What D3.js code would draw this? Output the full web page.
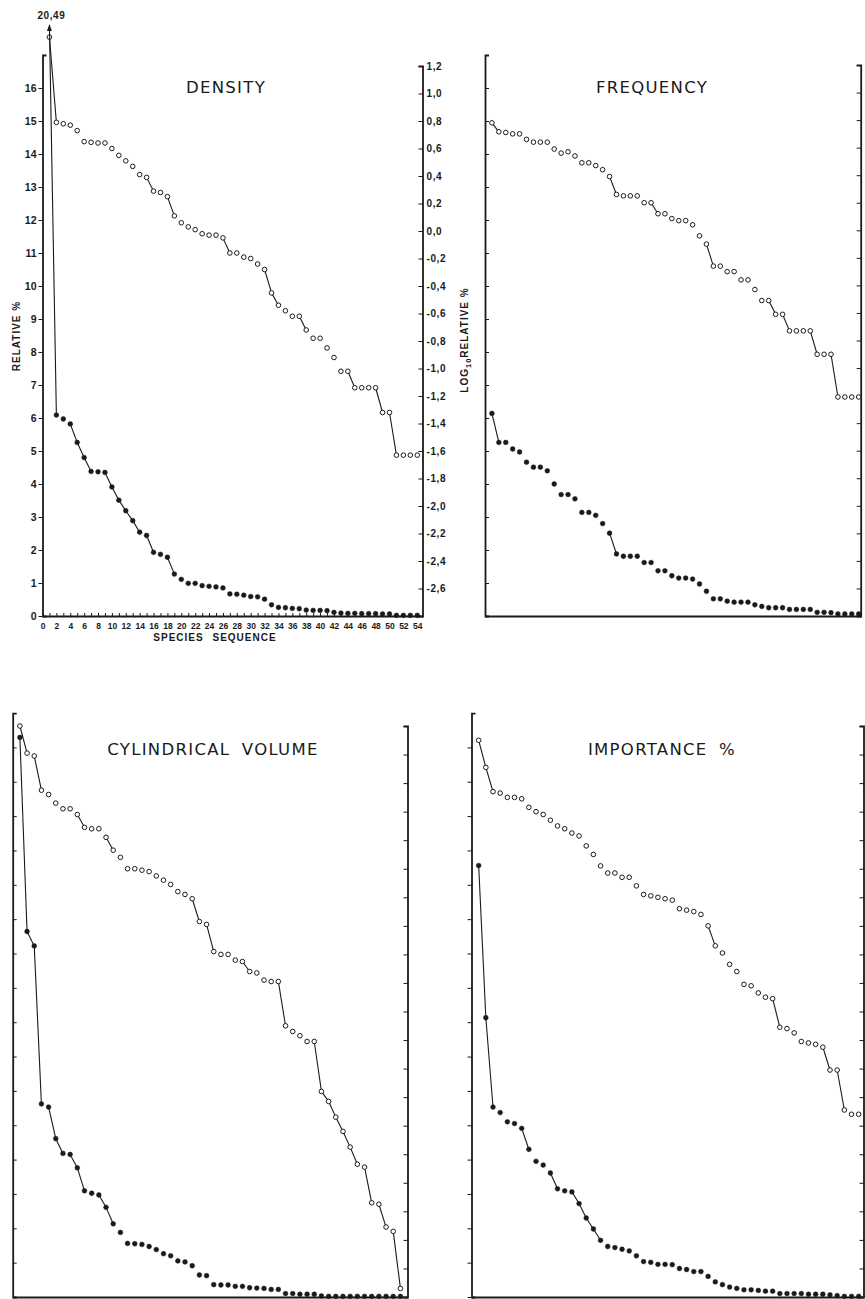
<!DOCTYPE html>
<html>
<head>
<meta charset="utf-8">
<script src="https://cdn.jsdelivr.net/npm/d3@7"></script>
<style>
  body { margin: 0; background: #fff; }
  text { fill: #1a1a1a; }
</style>
</head>
<body>
<svg id="chart" width="865" height="1299"></svg>
<script>
// species sequence 1..54, relative % (filled dots) and log10 relative % (open dots)
const species = d3.range(1, 55);
const relTicks = d3.range(0, 17);
const logTicks = d3.range(-14, 7).map(i => i / 5);   // -2.8 .. 1.2
const xLabels = d3.range(0, 55, 2);

const densityRel = [20.49, 6.09, 5.97, 5.82, 5.26, 4.80, 4.38, 4.37, 4.35, 3.91,
  3.51, 3.19, 2.89, 2.54, 2.44, 1.93, 1.87, 1.78, 1.27, 1.11,
  0.99, 0.99, 0.92, 0.90, 0.88, 0.85, 0.67, 0.66, 0.63, 0.59,
  0.58, 0.51, 0.34, 0.26, 0.25, 0.23, 0.22, 0.18, 0.17, 0.17,
  0.16, 0.11, 0.09, 0.08, 0.08, 0.07, 0.07, 0.07, 0.06, 0.06,
  0.02, 0.02, 0.02, 0.02];
const densityLog = [1.41, 0.79, 0.78, 0.77, 0.73, 0.65, 0.645, 0.64, 0.64, 0.60,
  0.55, 0.51, 0.47, 0.41, 0.39, 0.29, 0.28, 0.25, 0.11, 0.06,
  0.03, 0.01, -0.02, -0.03, -0.03, -0.05, -0.16, -0.16, -0.19, -0.20,
  -0.24, -0.28, -0.45, -0.54, -0.58, -0.62, -0.62, -0.72, -0.78, -0.78,
  -0.85, -0.92, -1.02, -1.02, -1.14, -1.14, -1.14, -1.14, -1.32, -1.32,
  -1.63, -1.63, -1.63, -1.63];

const freqRel = [6.14, 5.26, 5.26, 5.06, 4.97, 4.66, 4.51, 4.51, 4.40, 4.00,
  3.68, 3.68, 3.55, 3.14, 3.14, 3.05, 2.80, 2.51, 1.88, 1.81,
  1.81, 1.81, 1.62, 1.62, 1.37, 1.37, 1.22, 1.15, 1.15, 1.12,
  0.97, 0.75, 0.52, 0.52, 0.45, 0.42, 0.42, 0.42, 0.34, 0.29,
  0.25, 0.25, 0.25, 0.20, 0.20, 0.20, 0.20, 0.11, 0.11, 0.10,
  0.06, 0.06, 0.06, 0.06];
const freqLog = [0.78, 0.715, 0.71, 0.70, 0.70, 0.66, 0.64, 0.64, 0.64, 0.59,
  0.56, 0.57, 0.54, 0.49, 0.49, 0.47, 0.44, 0.39, 0.26, 0.25,
  0.25, 0.25, 0.20, 0.20, 0.12, 0.12, 0.085, 0.07, 0.07, 0.04,
  -0.04, -0.10, -0.26, -0.26, -0.30, -0.30, -0.36, -0.36, -0.43, -0.51,
  -0.51, -0.61, -0.61, -0.73, -0.73, -0.73, -0.73, -0.90, -0.90, -0.90,
  -1.21, -1.21, -1.21, -1.21];

const volumeRel = [16.29, 10.64, 10.22, 5.62, 5.53, 4.61, 4.18, 4.15, 3.76, 3.09,
  3.02, 2.97, 2.61, 2.13, 1.88, 1.56, 1.55, 1.53, 1.47, 1.38,
  1.26, 1.20, 1.05, 1.02, 0.91, 0.64, 0.62, 0.36, 0.35, 0.35,
  0.31, 0.31, 0.27, 0.26, 0.25, 0.22, 0.22, 0.10, 0.10, 0.08,
  0.08, 0.08, 0.03, 0.02, 0.02, 0.02, 0.02, 0.02, 0.02, 0.02,
  0.02, 0.02, 0.02, 0.02];
const volumeLog = [1.20, 1.01, 0.99, 0.75, 0.72, 0.66, 0.62, 0.62, 0.58, 0.49,
  0.48, 0.48, 0.42, 0.33, 0.28, 0.20, 0.20, 0.19, 0.18, 0.15,
  0.12, 0.09, 0.04, 0.02, -0.01, -0.17, -0.19, -0.38, -0.40, -0.40,
  -0.44, -0.45, -0.52, -0.53, -0.58, -0.59, -0.59, -0.90, -0.94, -0.97,
  -1.01, -1.01, -1.36, -1.43, -1.54, -1.64, -1.75, -1.87, -1.89, -2.14,
  -2.15, -2.31, -2.34, -2.74];

const importanceRel = [12.56, 8.13, 5.53, 5.37, 5.10, 5.05, 4.91, 4.30, 3.95, 3.84,
  3.61, 3.15, 3.09, 3.06, 2.72, 2.30, 1.98, 1.65, 1.47, 1.44,
  1.39, 1.34, 1.20, 1.03, 1.01, 0.95, 0.95, 0.94, 0.83, 0.80,
  0.74, 0.74, 0.60, 0.44, 0.36, 0.29, 0.25, 0.21, 0.21, 0.19,
  0.17, 0.17, 0.10, 0.10, 0.10, 0.10, 0.08, 0.08, 0.08, 0.06,
  0.04, 0.02, 0.02, 0.02];
const importanceLog = [1.10, 0.91, 0.74, 0.73, 0.70, 0.70, 0.69, 0.63, 0.60, 0.58,
  0.54, 0.50, 0.48, 0.45, 0.43, 0.36, 0.30, 0.22, 0.17, 0.17,
  0.14, 0.14, 0.08, 0.02, 0.01, 0.00, -0.01, -0.02, -0.08, -0.09,
  -0.10, -0.12, -0.20, -0.34, -0.39, -0.47, -0.52, -0.61, -0.62, -0.67,
  -0.70, -0.71, -0.91, -0.92, -0.95, -1.01, -1.02, -1.03, -1.05, -1.21,
  -1.21, -1.49, -1.52, -1.52];

// species n where the draughtsman joined n to n+1 with a line
const densityRelLinks = [1, 4, 5, 6, 9, 10, 11, 12, 13, 15, 18];
const densityLogLinks = [1, 15, 18, 26, 32, 33, 37, 44, 48, 50];
const freqRelLinks = [1, 18];
const freqLogLinks = [1, 18, 24, 32, 41, 43, 47, 50];
const volumeRelLinks = [1, 2, 3, 5, 6, 8, 9, 12, 13];
const volumeLogLinks = [1, 3, 9, 13, 25, 27, 32, 37, 42, 43, 44, 45, 46, 47, 49, 51, 53];
const importanceRelLinks = [1, 2, 7, 11, 14, 15, 16, 17];
const importanceLogLinks = [1, 2, 33, 42, 49, 51];

const panels = [
  { title: "DENSITY", rel: densityRel, log: densityLog, relLinks: densityRelLinks, logLinks: densityLogLinks,
    left: 42.5, right: 422.5, step: 6.94, bottom: 616, unit: 33, logTop: 66, leftTick: 4,
    tx: 226, ty: 93, labelled: true, cap: 17.85 },
  { title: "FREQUENCY", rel: freqRel, log: freqLog, relLinks: freqRelLinks, logLinks: freqLogLinks,
    left: 485, right: 860.7, step: 6.92, bottom: 616, unit: 33, logTop: 65, leftTick: -4,
    tx: 652, ty: 93 },
  { title: "CYLINDRICAL VOLUME", rel: volumeRel, log: volumeLog, relLinks: volumeRelLinks, logLinks: volumeLogLinks,
    left: 12.7, right: 407.5, step: 7.18, bottom: 1297, unit: 34.35, logTop: 726, leftTick: -4,
    tx: 213, ty: 755 },
  { title: "IMPORTANCE %", rel: importanceRel, log: importanceLog, relLinks: importanceRelLinks, logLinks: importanceLogLinks,
    left: 471.5, right: 863.5, step: 7.17, bottom: 1297, unit: 34.35, logTop: 726, leftTick: 4,
    tx: 662, ty: 755 }
];

const ink = "#1a1a1a";
const svg = d3.select("#chart");
const fmtComma = d3.formatLocale({decimal: ",", thousands: ".", grouping: [3], currency: ["", ""], minus: "-"});
const fmtLog = fmtComma.format(".1f");
const fmtPeak = fmtComma.format(".2f");

function styleAxis(ax, font) {
  ax.select(".domain").attr("stroke", ink).attr("stroke-width", 1.8);
  ax.selectAll(".tick line").attr("stroke", ink).attr("stroke-width", 1);
  ax.selectAll("text").attr("font-family", "Liberation Sans, Arial, sans-serif")
    .attr("font-weight", "bold").attr("font-size", font).attr("fill", ink);
}

panels.forEach(p => {
  const g = svg.append("g");
  const x = d3.scaleLinear().domain([0, 54]).range([p.left, p.left + 54 * p.step]);
  const yRel = d3.scaleLinear().domain([0, 17]).range([p.bottom, p.bottom - 17 * p.unit]);
  const yLog = d3.scaleLinear().domain([-2.8, 1.2]).range([p.bottom, p.logTop]);

  // left axis (relative %)
  g.append("g").attr("transform", `translate(${p.left},0)`)
    .call(d3.axisLeft(yRel).tickValues(relTicks).tickSizeInner(p.leftTick).tickSizeOuter(-4)
      .tickPadding(2).tickFormat(d => p.labelled ? d : ""))
    .call(ax => styleAxis(ax, 10.5));

  // right axis (log10 relative %)
  g.append("g").attr("transform", `translate(${p.right},0)`)
    .call(d3.axisRight(yLog).tickValues(logTicks).tickSizeInner(-4).tickSizeOuter(-4)
      .tickPadding(4).tickFormat(d => p.labelled && d > -2.7 ? fmtLog(d) : ""))
    .call(ax => styleAxis(ax, 10))
    .call(ax => ax.selectAll("text").attr("letter-spacing", 0.6));

  // bottom axis (species sequence)
  const xs = d3.scaleLinear().domain([0, 1]).range([p.left, p.right]);
  g.append("g").attr("transform", `translate(0,${p.bottom})`)
    .call(d3.axisBottom(xs).tickValues([]).tickSizeOuter(0))
    .call(ax => styleAxis(ax, 8));
  if (p.labelled) {
    g.append("g").attr("transform", `translate(0,${p.bottom})`)
      .call(d3.axisBottom(x).tickValues(d3.range(0, 55)).tickSizeInner(-3).tickSizeOuter(0)
        .tickPadding(7).tickFormat(d => xLabels.includes(d) ? d : ""))
      .call(ax => styleAxis(ax, 8.5))
      .call(ax => ax.select(".domain").remove());
  }

  // title
  g.append("text").attr("x", p.tx).attr("y", p.ty).attr("text-anchor", "middle")
    .attr("font-family", "DejaVu Sans, sans-serif").attr("font-size", 16.5)
    .attr("letter-spacing", 1.3).attr("word-spacing", 5).text(p.title);

  const cap = p.cap || Infinity;
  function series(vals, links, y, filled) {
    const pts = vals.map((v, i) => ({ s: species[i], v, x: x(species[i]), y: y(Math.min(v, cap)) }));
    const sg = g.append("g");
    sg.selectAll("line").data(links).enter().append("line")
      .attr("x1", s => pts[s - 1].x).attr("y1", s => pts[s - 1].y)
      .attr("x2", s => pts[s].x).attr("y2", s => pts[s].y)
      .attr("stroke", ink).attr("stroke-width", 1.1);
    sg.selectAll("circle").data(pts.filter(d => d.v < cap)).enter().append("circle")
      .attr("cx", d => d.x).attr("cy", d => d.y).attr("r", filled ? 2.4 : 2.3)
      .attr("fill", filled ? ink : "#fff").attr("stroke", ink).attr("stroke-width", filled ? 0.5 : 1);
    // off-scale value: arrow head and value label
    pts.filter(d => d.v >= cap).forEach(d => {
      sg.append("path").attr("d", `M${d.x},${d.y - 3}l-2.5,7h5z`).attr("fill", ink);
      sg.append("text").attr("x", d.x + 2).attr("y", d.y - 8).attr("text-anchor", "middle")
        .attr("font-family", "Liberation Sans, Arial, sans-serif").attr("font-weight", "bold")
        .attr("font-size", 10).attr("letter-spacing", 0.6).text(fmtPeak(d.v));
    });
  }
  series(p.log, p.logLinks, yLog, false);
  series(p.rel, p.relLinks, yRel, true);

  if (p.labelled) {
    g.append("text").attr("transform", `translate(20,336) rotate(-90)`).attr("text-anchor", "middle")
      .attr("font-family", "Liberation Sans, Arial, sans-serif").attr("font-weight", "bold")
      .attr("font-size", 10).attr("letter-spacing", 1).text("RELATIVE %");
    const lt = g.append("text").attr("transform", `translate(468,340) rotate(-90)`).attr("text-anchor", "middle")
      .attr("font-family", "Liberation Sans, Arial, sans-serif").attr("font-weight", "bold")
      .attr("font-size", 10).attr("letter-spacing", 1);
    lt.append("tspan").text("LOG");
    lt.append("tspan").attr("font-size", 7.5).attr("dy", 3).text("10");
    lt.append("tspan").attr("dy", -3).text("RELATIVE %");
    g.append("text").attr("x", 215).attr("y", 641).attr("text-anchor", "middle")
      .attr("font-family", "Liberation Sans, Arial, sans-serif").attr("font-weight", "bold")
      .attr("font-size", 10).attr("letter-spacing", 1).attr("word-spacing", 5).text("SPECIES SEQUENCE");
  }
});
</script>
</body>
</html>
